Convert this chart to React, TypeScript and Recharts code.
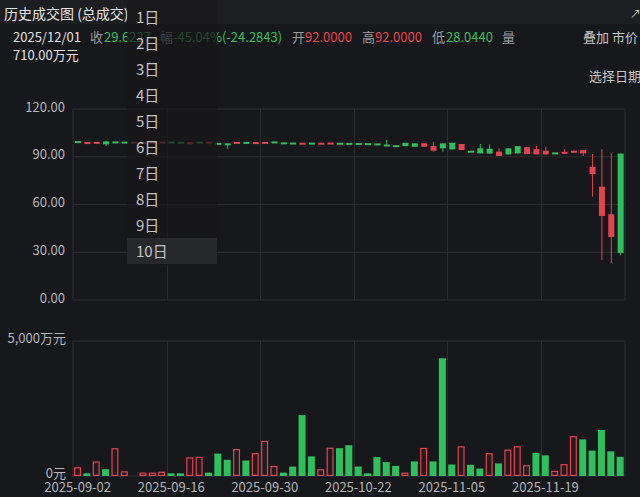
import React from 'react';
import { ComposedChart, BarChart, Bar, XAxis, YAxis, CartesianGrid } from 'recharts';

const RED = '#e5434f';
const GREEN = '#2fbf5c';
const BG = '#17181b';
const GRID = '#2b2c30';
const AXIS_TEXT = '#b3b4b7';

const dates = [
  '2025-09-02', '2025-09-03', '2025-09-04', '2025-09-05', '2025-09-08', '2025-09-09', '2025-09-10', '2025-09-11', '2025-09-12', '2025-09-15',
  '2025-09-16', '2025-09-17', '2025-09-18', '2025-09-19', '2025-09-22', '2025-09-23', '2025-09-24', '2025-09-25', '2025-09-26', '2025-09-29',
  '2025-09-30', '2025-10-09', '2025-10-10', '2025-10-13', '2025-10-14', '2025-10-15', '2025-10-16', '2025-10-17', '2025-10-20', '2025-10-21',
  '2025-10-22', '2025-10-23', '2025-10-24', '2025-10-27', '2025-10-28', '2025-10-29', '2025-10-30', '2025-10-31', '2025-11-03', '2025-11-04',
  '2025-11-05', '2025-11-06', '2025-11-07', '2025-11-10', '2025-11-11', '2025-11-12', '2025-11-13', '2025-11-14', '2025-11-17', '2025-11-18',
  '2025-11-19', '2025-11-20', '2025-11-21', '2025-11-24', '2025-11-25', '2025-11-26', '2025-11-27', '2025-11-28', '2025-12-01',
];

const opens = [
  99.4, 98.5, 98.6, 99.6, 99.1, 99.0, 98.8, 98.6, 98.7, 98.8,
  99.0, 98.9, 98.0, 99.0, 98.7, 98.2, 98.1, 98.6, 98.8, 98.5,
  98.6, 99.2, 98.5, 98.4, 98.1, 98.4, 98.1, 98.2, 98.3, 98.2,
  98.1, 98.0, 97.9, 97.2, 96.8, 98.8, 98.4, 96.3, 93.8, 98.4,
  98.8, 94.2, 93.3, 95.3, 95.0, 90.5, 95.3, 96.7, 91.7, 91.5,
  91.5, 92.2, 92.1, 92.5, 92.1, 79.1, 52.8, 39.6, 92.0,
];
const highs = [
  99.4, 98.7, 98.8, 100.0, 99.1, 99.0, 98.9, 98.8, 98.9, 99.0,
  99.0, 98.9, 99.2, 99.0, 98.9, 98.2, 98.1, 98.8, 98.8, 98.7,
  98.8, 99.4, 98.5, 98.4, 98.3, 98.4, 98.3, 98.4, 98.3, 98.2,
  98.1, 98.0, 97.9, 100.6, 96.8, 98.8, 98.4, 98.4, 99.4, 98.4,
  98.8, 98.0, 93.3, 98.0, 97.8, 95.3, 95.3, 96.7, 96.0, 96.7,
  96.3, 92.2, 94.7, 93.8, 94.2, 91.7, 94.8, 92.5, 92.0,
];
const lows = [
  99.0, 98.5, 98.6, 96.8, 98.9, 98.8, 98.7, 98.6, 98.7, 98.8,
  98.8, 98.7, 97.8, 98.8, 98.7, 98.0, 95.0, 98.6, 98.6, 98.5,
  98.6, 98.6, 98.3, 98.2, 98.1, 98.2, 98.1, 98.2, 98.1, 98.0,
  97.9, 97.8, 97.6, 96.9, 96.5, 96.7, 96.3, 96.3, 93.2, 93.2,
  94.6, 94.2, 93.1, 92.1, 92.0, 90.5, 91.5, 92.1, 91.7, 91.5,
  91.5, 92.0, 92.1, 92.5, 90.5, 64.9, 25.1, 23.2, 28.044,
];
const closes = [
  99.0, 98.7, 98.8, 97.8, 98.9, 98.8, 98.9, 98.8, 98.9, 99.0,
  98.8, 98.7, 99.0, 98.8, 98.9, 98.0, 97.5, 98.8, 98.6, 98.7,
  98.8, 98.8, 98.3, 98.2, 98.3, 98.2, 98.3, 98.4, 98.1, 98.0,
  97.9, 97.8, 97.6, 96.9, 96.5, 96.7, 96.3, 98.4, 96.7, 95.3,
  94.6, 98.0, 93.1, 92.1, 92.0, 93.2, 91.5, 92.1, 96.0, 94.7,
  93.8, 92.0, 92.8, 93.8, 94.2, 83.7, 71.2, 53.9, 29.6227,
];

// 成交额 (万元)
const volumes = [
  325, 100, 540, 250, 1030, 175, 0, 125, 125, 160,
  100, 100, 690, 715, 125, 830, 600, 1000, 575, 850,
  1300, 375, 125, 350, 2255, 727, 250, 1050, 1030, 1140,
  350, 100, 700, 515, 375, 125, 540, 1040, 540, 4360,
  425, 1100, 415, 275, 850, 465, 980, 1100, 400, 850,
  765, 190, 440, 1480, 1355, 940, 1705, 915, 710,
];
const volDirs = [
  'R', 'G', 'R', 'G', 'R', 'R', 'R', 'R', 'R', 'R',
  'G', 'G', 'R', 'R', 'G', 'G', 'G', 'R', 'G', 'R',
  'R', 'R', 'G', 'G', 'G', 'G', 'R', 'R', 'G', 'G',
  'G', 'G', 'G', 'G', 'G', 'R', 'G', 'R', 'G', 'G',
  'G', 'R', 'G', 'G', 'R', 'G', 'R', 'R', 'R', 'G',
  'G', 'R', 'R', 'R', 'G', 'G', 'G', 'G', 'G',
];

const xTicks = ['2025-09-02', '2025-09-16', '2025-09-30', '2025-10-22', '2025-11-05', '2025-11-19'];
const priceTicks = [0, 30, 60, 90, 120];
const volTicks = [0, 5000];
const menuItems = ['1日', '2日', '3日', '4日', '5日', '6日', '7日', '8日', '9日', '10日'];

const rows = dates.map((d, i) => ({
  date: d,
  open: opens[i],
  high: highs[i],
  low: lows[i],
  close: closes[i],
  range: [lows[i], highs[i]],
  vol: volumes[i],
  vd: volDirs[i],
}));

const Candle = (props: any) => {
  const { x, y, width, height, payload } = props;
  if (!payload || x == null || y == null) return null;
  const top = Math.min(y, y + height);
  const h = Math.abs(height);
  const { open, close, high, low } = payload;
  const span = high - low;
  const toY = (v: number) => (span > 0 ? top + ((high - v) / span) * h : top);
  const cx = x + width / 2;
  const color = close >= open ? RED : GREEN;
  const yO = toY(open);
  const yC = toY(close);
  let bt = Math.min(yO, yC);
  let bh = Math.abs(yO - yC);
  if (bh < 2) {
    bt = (yO + yC) / 2 - 1;
    bh = 2;
  }
  const bw = 6;
  return (
    <g>
      <line x1={cx} x2={cx} y1={top} y2={top + h} stroke={color} strokeWidth={1} />
      <rect x={cx - bw / 2} y={bt} width={bw} height={bh} fill={color} />
    </g>
  );
};

const VolBar = (props: any) => {
  const { x, y, width, height, payload } = props;
  if (!payload || !height || height <= 0) return null;
  if (payload.vd === 'R') {
    return (
      <rect
        x={x + 0.6}
        y={y + 0.6}
        width={Math.max(width - 1.2, 0)}
        height={Math.max(height - 1.2, 0.5)}
        fill="rgba(229,67,79,0.06)"
        stroke={RED}
        strokeWidth={1.2}
      />
    );
  }
  return <rect x={x} y={y} width={width} height={height} fill={GREEN} />;
};

// vertical grid lines at the start of each labelled day's band, plus the panel borders
const vGen = (props: any) => {
  const { offset } = props;
  if (!offset) return [];
  const band = offset.width / dates.length;
  const pts: number[] = [offset.left, offset.left + offset.width];
  xTicks.forEach((d, k) => {
    if (k === 0) return;
    const idx = dates.indexOf(d);
    pts.push(Math.round(offset.left + band * idx) + 0.5);
  });
  return pts;
};

const txt = (
  s: string,
  left: number,
  cy: number,
  color: string,
  size = 13,
  extra: React.CSSProperties = {}
) => (
  <div
    style={{
      position: 'absolute',
      left,
      top: cy - size * 0.7,
      height: size * 1.4,
      lineHeight: `${size * 1.4}px`,
      fontSize: size,
      color,
      whiteSpace: 'nowrap',
      ...extra,
    }}
  >
    {s}
  </div>
);

export default function App() {
  const font = '"Noto Sans CJK SC", "Noto Sans", sans-serif';
  return (
    <div
      style={{
        position: 'absolute',
        left: 0,
        top: 0,
        width: 640,
        height: 497,
        background: BG,
        overflow: 'hidden',
        fontFamily: font,
      }}
    >
      {/* title bar */}
      <div style={{ position: 'absolute', left: 0, top: 0, width: 640, height: 24, background: '#1d1e21' }} />
      {txt('历史成交图 (总成交)', 4, 14, '#e6e6e6', 14)}
      {txt('↗', 630, 14, '#cfcfcf', 11)}

      {txt('2025/12/01', 13, 37, '#e2e2e2')}
      {txt('收', 90, 37, '#9a9b9e')}
      {txt('29.6227', 104, 37, GREEN)}
      {txt('幅', 160, 37, '#9a9b9e')}
      {txt('-45.04%(-24.2843)', 173, 37, GREEN)}
      {txt('开', 292, 37, '#9a9b9e')}
      {txt('92.0000', 305, 37, RED)}
      {txt('高', 362, 37, '#9a9b9e')}
      {txt('92.0000', 375, 37, RED)}
      {txt('低', 432, 37, '#9a9b9e')}
      {txt('28.0440', 446, 37, GREEN)}
      {txt('量', 502, 37, '#9a9b9e')}
      {txt('叠加', 583, 37, '#c6c6c6')}
      {txt('市价', 612, 37, '#c6c6c6')}
      {txt('710.00万元', 13, 55, '#e2e2e2')}
      {txt('选择日期', 589, 76, '#c6c6c6')}

      <div style={{ position: 'absolute', left: 0, top: 0 }}>
        <ComposedChart width={640} height={320} data={rows} margin={{ top: 109, right: 15, bottom: 20, left: 13 }}>
          <CartesianGrid stroke={GRID} strokeWidth={1} verticalCoordinatesGenerator={vGen} />
          <XAxis dataKey="date" type="category" hide />
          <YAxis
            domain={[0, 120]}
            ticks={priceTicks}
            width={60}
            axisLine={false}
            tickLine={false}
            tickSize={0}
            tickMargin={8}
            tick={{ fill: AXIS_TEXT, fontSize: 13, dy: -2 }}
            tickFormatter={(v: number) => v.toFixed(2)}
          />
          <Bar dataKey="range" barSize={6} shape={Candle} isAnimationActive={false} />
        </ComposedChart>
      </div>

      <div style={{ position: 'absolute', left: 0, top: 320 }}>
        <BarChart width={640} height={177} data={rows} margin={{ top: 21, right: 15, bottom: 0, left: 13 }}>
          <CartesianGrid stroke={GRID} strokeWidth={1} verticalCoordinatesGenerator={vGen} />
          <XAxis
            dataKey="date"
            type="category"
            ticks={xTicks}
            interval={0}
            height={21}
            axisLine={false}
            tickLine={false}
            tickSize={0}
            tickMargin={7}
            tick={{ fill: AXIS_TEXT, fontSize: 13 }}
          />
          <YAxis
            domain={[0, 5000]}
            ticks={volTicks}
            width={60}
            axisLine={false}
            tickLine={false}
            tickSize={0}
            tickMargin={7}
            tick={{ fill: AXIS_TEXT, fontSize: 13, dy: -3 }}
            tickFormatter={(v: number) => (v === 0 ? '0元' : `${v.toLocaleString('en-US')}万元`)}
          />
          <Bar dataKey="vol" barSize={7} shape={VolBar} isAnimationActive={false} />
        </BarChart>
      </div>

      {/* day selector menu overlay */}
      <div
        style={{
          position: 'absolute',
          left: 127,
          top: 0,
          width: 90,
          height: 265,
          background: 'rgba(23,24,27,0.72)',
        }}
      />
      <div
        style={{
          position: 'absolute',
          left: 127,
          top: 238,
          width: 90,
          height: 26,
          background: '#27282c',
        }}
      />
      {menuItems.map((m, i) => (
        <React.Fragment key={m}>{txt(m, 136, 16.5 + 26 * i, '#c4c4c6', 15)}</React.Fragment>
      ))}
    </div>
  );
}
